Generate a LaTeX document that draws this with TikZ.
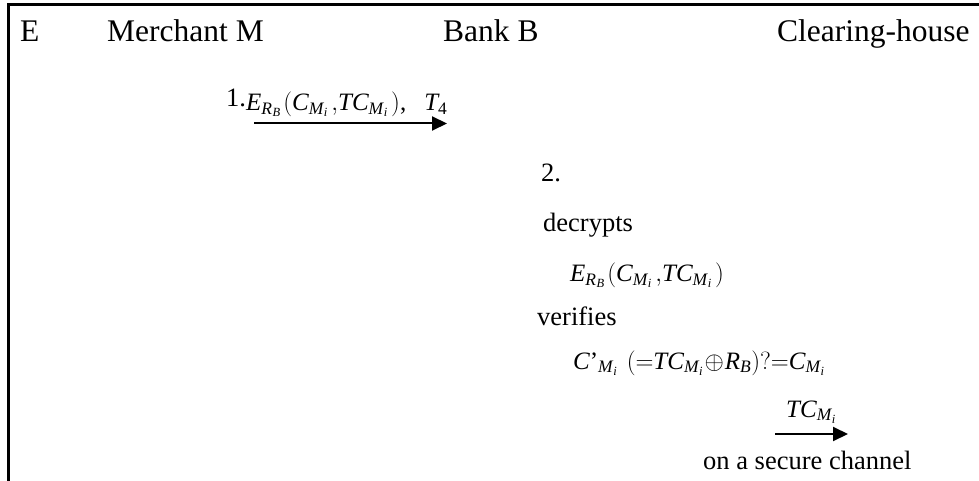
\documentclass[tikz,border=0pt]{standalone}
\usepackage{fontspec}
\setmainfont{Liberation Serif}
\usetikzlibrary{arrows.meta}
\newcommand{\mv}[1]{\mathit{#1}}
% subscripted symbol M_i with a little room after it
\newcommand{\Mi}{\mv{M}_{\hspace{0.5pt}\mv{i}}}
\newcommand{\RB}{\mv{R}_{\hspace{0.5pt}\mv{B}}}
\newcommand{\lp}{\mathrm{(}}
\newcommand{\rp}{\mathrm{)}}
\tikzset{
  x=1pt, y=1pt,
  head/.style={font=\fontsize{31.5}{36}\selectfont, anchor=base west, inner sep=0pt},
  txt/.style={font=\fontsize{26.5}{30}\selectfont, anchor=base west, inner sep=0pt},
  formula/.style={font=\fontsize{25}{29}\selectfont, anchor=base west, inner sep=0pt},
  frame/.style={line width=2.3pt},
  msg/.style={line width=2pt, -{Triangle[length=15pt,width=14pt]}}
}
\begin{document}
\begin{tikzpicture}
\useasboundingbox (0,0) rectangle (979,-481);
% open frame: top and left edges only
\draw[frame] (979,-4.5) -- (8.5,-4.5) -- (8.5,-481);

% participants
\node[head] (e)  at (20,-42)  {E};
\node[head] (m)  at (107,-42) {Merchant M};
\node[head] (b)  at (443,-42) {Bank B};
\node[head] (ch) at (777,-42) {Clearing-house};

% step 1: merchant to bank
\node[txt] (s1) at (226,-107) {1.};
\node[formula] (m1) at (246,-110.5)
  {$\mv{E}_{\RB}\hspace{2pt}\lp\mv{C}_{\Mi}\hspace{3pt}{,}\mv{TC}_{\Mi}\hspace{3pt}\rp\mbox{,}\hspace{18pt}\mv{T}_{\mathrm{4}}$};
\coordinate (a1s) at (254,-123.5);
\coordinate (a1e) at (447,-123.5);
\draw[msg] (a1s) -- (a1e);

% step 2: bank processing
\node[txt] (s2) at (541,-182) {2.};
\node[txt] (dec) at (543,-231) {decrypts};
\node[formula] (f1) at (570,-281.5)
  {$\mv{E}_{\RB}\hspace{2pt}\lp\mv{C}_{\Mi}\hspace{3pt}{,}\mv{TC}_{\Mi}\hspace{3pt}\rp$};
\node[txt] (ver) at (537,-325) {verifies};
\node[formula] (f2) at (573,-369)
  {$\mv{C}\mbox{'}_{\Mi}\hspace{9pt}\lp{=}\mv{TC}_{\Mi}\hspace{1pt}{\oplus}\hspace{1pt}\mv{R}_{\mv{B}}\rp\mathrm{?}{=}\mv{C}_{\Mi}$};

% bank to clearing-house
\node[formula] (tc) at (786,-417) {$\mv{TC}_{\Mi}$};
\coordinate (a2s) at (775,-434);
\coordinate (a2e) at (848,-434);
\draw[msg] (a2s) -- (a2e);
\node[txt] (sec) at (703,-469) {on a secure channel};
\end{tikzpicture}
\end{document}
